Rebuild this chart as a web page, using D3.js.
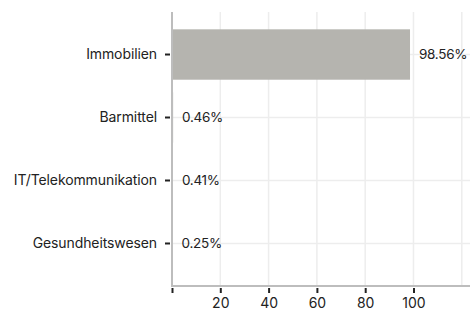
<!DOCTYPE html>
<html>
<head>
<meta charset="utf-8">
<script src="https://cdn.jsdelivr.net/npm/d3@7"></script>
<style>
  body { margin: 0; background: #fff; }
  text { font-family: Inter, "Noto Sans", sans-serif; fill: #222; }
</style>
</head>
<body>
<div id="chart"></div>
<script>
const categories = ["Immobilien", "Barmittel", "IT/Telekommunikation", "Gesundheitswesen"];
const values = [98.56, 0.46, 0.41, 0.25];
const labels = ["98.56%", "0.46%", "0.41%", "0.25%"];
const xTicks = [0, 20, 40, 60, 80, 100];
const xGrid = [20, 40, 60, 80, 100, 120];

const width = 470, height = 313;
const margin = { top: 12, right: 0, bottom: 27, left: 172 };

const svg = d3.select("#chart").append("svg")
    .attr("width", width)
    .attr("height", height);

const x = d3.scaleLinear()
    .domain([0, 123.4])
    .range([margin.left, width - margin.right]);

const y = d3.scaleBand()
    .domain(categories)
    .range([margin.top, height - margin.bottom])
    .paddingInner(0.2)
    .paddingOuter(0.275);

// grid
svg.append("g")
    .selectAll("line.v")
    .data(xGrid)
    .enter().append("line")
    .attr("x1", d => x(d)).attr("x2", d => x(d))
    .attr("y1", margin.top).attr("y2", height - margin.bottom)
    .attr("stroke", "#ededed").attr("stroke-width", 1.5);

svg.append("g")
    .selectAll("line.h")
    .data(categories)
    .enter().append("line")
    .attr("x1", margin.left).attr("x2", width)
    .attr("y1", d => y(d) + y.bandwidth() / 2)
    .attr("y2", d => y(d) + y.bandwidth() / 2)
    .attr("stroke", "#ededed").attr("stroke-width", 1.5);

// bars
svg.append("g")
    .selectAll("rect")
    .data(values)
    .enter().append("rect")
    .attr("x", x(0))
    .attr("y", (d, i) => y(categories[i]))
    .attr("width", d => x(d) - x(0))
    .attr("height", y.bandwidth())
    .attr("fill", "#b5b4af");

// value labels
svg.append("g")
    .selectAll("text")
    .data(values)
    .enter().append("text")
    .attr("x", d => x(d) + 9)
    .attr("y", (d, i) => y(categories[i]) + y.bandwidth() / 2)
    .attr("dy", "0.35em")
    .attr("font-size", 13.5)
    .attr("letter-spacing", -0.3)
    .text((d, i) => labels[i]);

// y axis
const yAxis = svg.append("g")
    .attr("transform", `translate(${margin.left},0)`)
    .call(d3.axisLeft(y).tickSize(7).tickPadding(8));
yAxis.select(".domain").remove();
yAxis.selectAll(".tick line").attr("stroke", "#222").attr("stroke-width", 2)
    .attr("x1", -2);
yAxis.selectAll(".tick text").attr("font-size", 14).attr("fill", "#222")
    .attr("letter-spacing", -0.1);

// x axis
const xAxis = svg.append("g")
    .attr("transform", `translate(0,${height - margin.bottom})`)
    .call(d3.axisBottom(x).tickValues(xTicks).tickSize(7).tickPadding(5)
        .tickFormat(d => d === 0 ? "" : d));
xAxis.select(".domain").remove();
xAxis.selectAll(".tick line").attr("stroke", "#222").attr("stroke-width", 2)
    .attr("y1", 2);
xAxis.selectAll(".tick text").attr("font-size", 14).attr("fill", "#222");

// axis lines
svg.append("line")
    .attr("x1", margin.left).attr("x2", margin.left)
    .attr("y1", margin.top).attr("y2", height - margin.bottom)
    .attr("stroke", "#bdbdbd").attr("stroke-width", 2);
svg.append("line")
    .attr("x1", margin.left - 1).attr("x2", width)
    .attr("y1", height - margin.bottom).attr("y2", height - margin.bottom)
    .attr("stroke", "#bdbdbd").attr("stroke-width", 2);
</script>
</body>
</html>
